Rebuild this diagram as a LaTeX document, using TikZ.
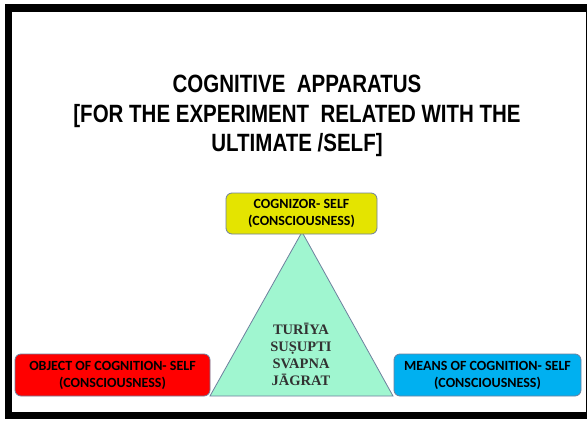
\documentclass[tikz,border=0pt]{standalone}
\usepackage{fontspec}
\usepackage{tikz}
\usetikzlibrary{positioning}
\setmainfont{Liberation Sans}
\newfontfamily\titlefont[FakeStretch=0.82]{Liberation Sans}
\newfontfamily\boxfont{Carlito}
\newfontfamily\trifont{Liberation Serif}
\definecolor{FrameColor}{RGB}{0,0,0}
\definecolor{CognizorColor}{RGB}{228,228,0}
\definecolor{TriColor}{RGB}{160,246,208}
\definecolor{ObjectColor}{RGB}{255,0,0}
\definecolor{MeansColor}{RGB}{0,176,240}
\definecolor{EdgeColor}{RGB}{110,128,158}
\definecolor{TriText}{RGB}{50,50,50}

\begin{document}
\begin{tikzpicture}[x=1pt, y=-1pt,
    selfbox/.style={draw=EdgeColor, line width=0.8pt, rounded corners=6pt, align=center,
      font=\boxfont\bfseries\fontsize{14}{17}\selectfont, inner sep=0pt}]
  \useasboundingbox (0,0) rectangle (587,421);
  \fill[FrameColor] (5,4) rectangle (587,419);
  \fill[white] (12,12) rectangle (585.5,411.5);

  \node[align=center, font=\titlefont\bfseries\fontsize{25}{29.5}\selectfont] (title) at (297,116)
    {COGNITIVE\ \ APPARATUS\\{[}FOR THE EXPERIMENT\ \ RELATED WITH THE\\ULTIMATE /SELF{]}};

  \coordinate (apex) at (302,232);
  \coordinate (baseL) at (210,396);
  \coordinate (baseR) at (393,396);
  \filldraw[fill=TriColor, draw=EdgeColor, line width=0.8pt] (apex) -- (baseL) -- (baseR) -- cycle;
  \node[align=center, text=TriText, font=\trifont\bfseries\fontsize{14.5}{17}\selectfont] (states) at (301,354.5)
    {TURĪYA\\SUṢUPTI\\SVAPNA\\JĀGRAT};

  \node[selfbox, fill=CognizorColor, minimum width=151pt, minimum height=41pt] (cognizor) at (301.5,213.5)
    {COGNIZOR- SELF\\(CONSCIOUSNESS)};
  \node[selfbox, fill=ObjectColor, minimum width=195pt, minimum height=42pt] (object) at (112.5,375)
    {OBJECT OF COGNITION- SELF\\(CONSCIOUSNESS)};
  \node[selfbox, fill=MeansColor, minimum width=187pt, minimum height=42pt] (means) at (487.5,375)
    {MEANS OF COGNITION- SELF\\(CONSCIOUSNESS)};
\end{tikzpicture}
\end{document}
